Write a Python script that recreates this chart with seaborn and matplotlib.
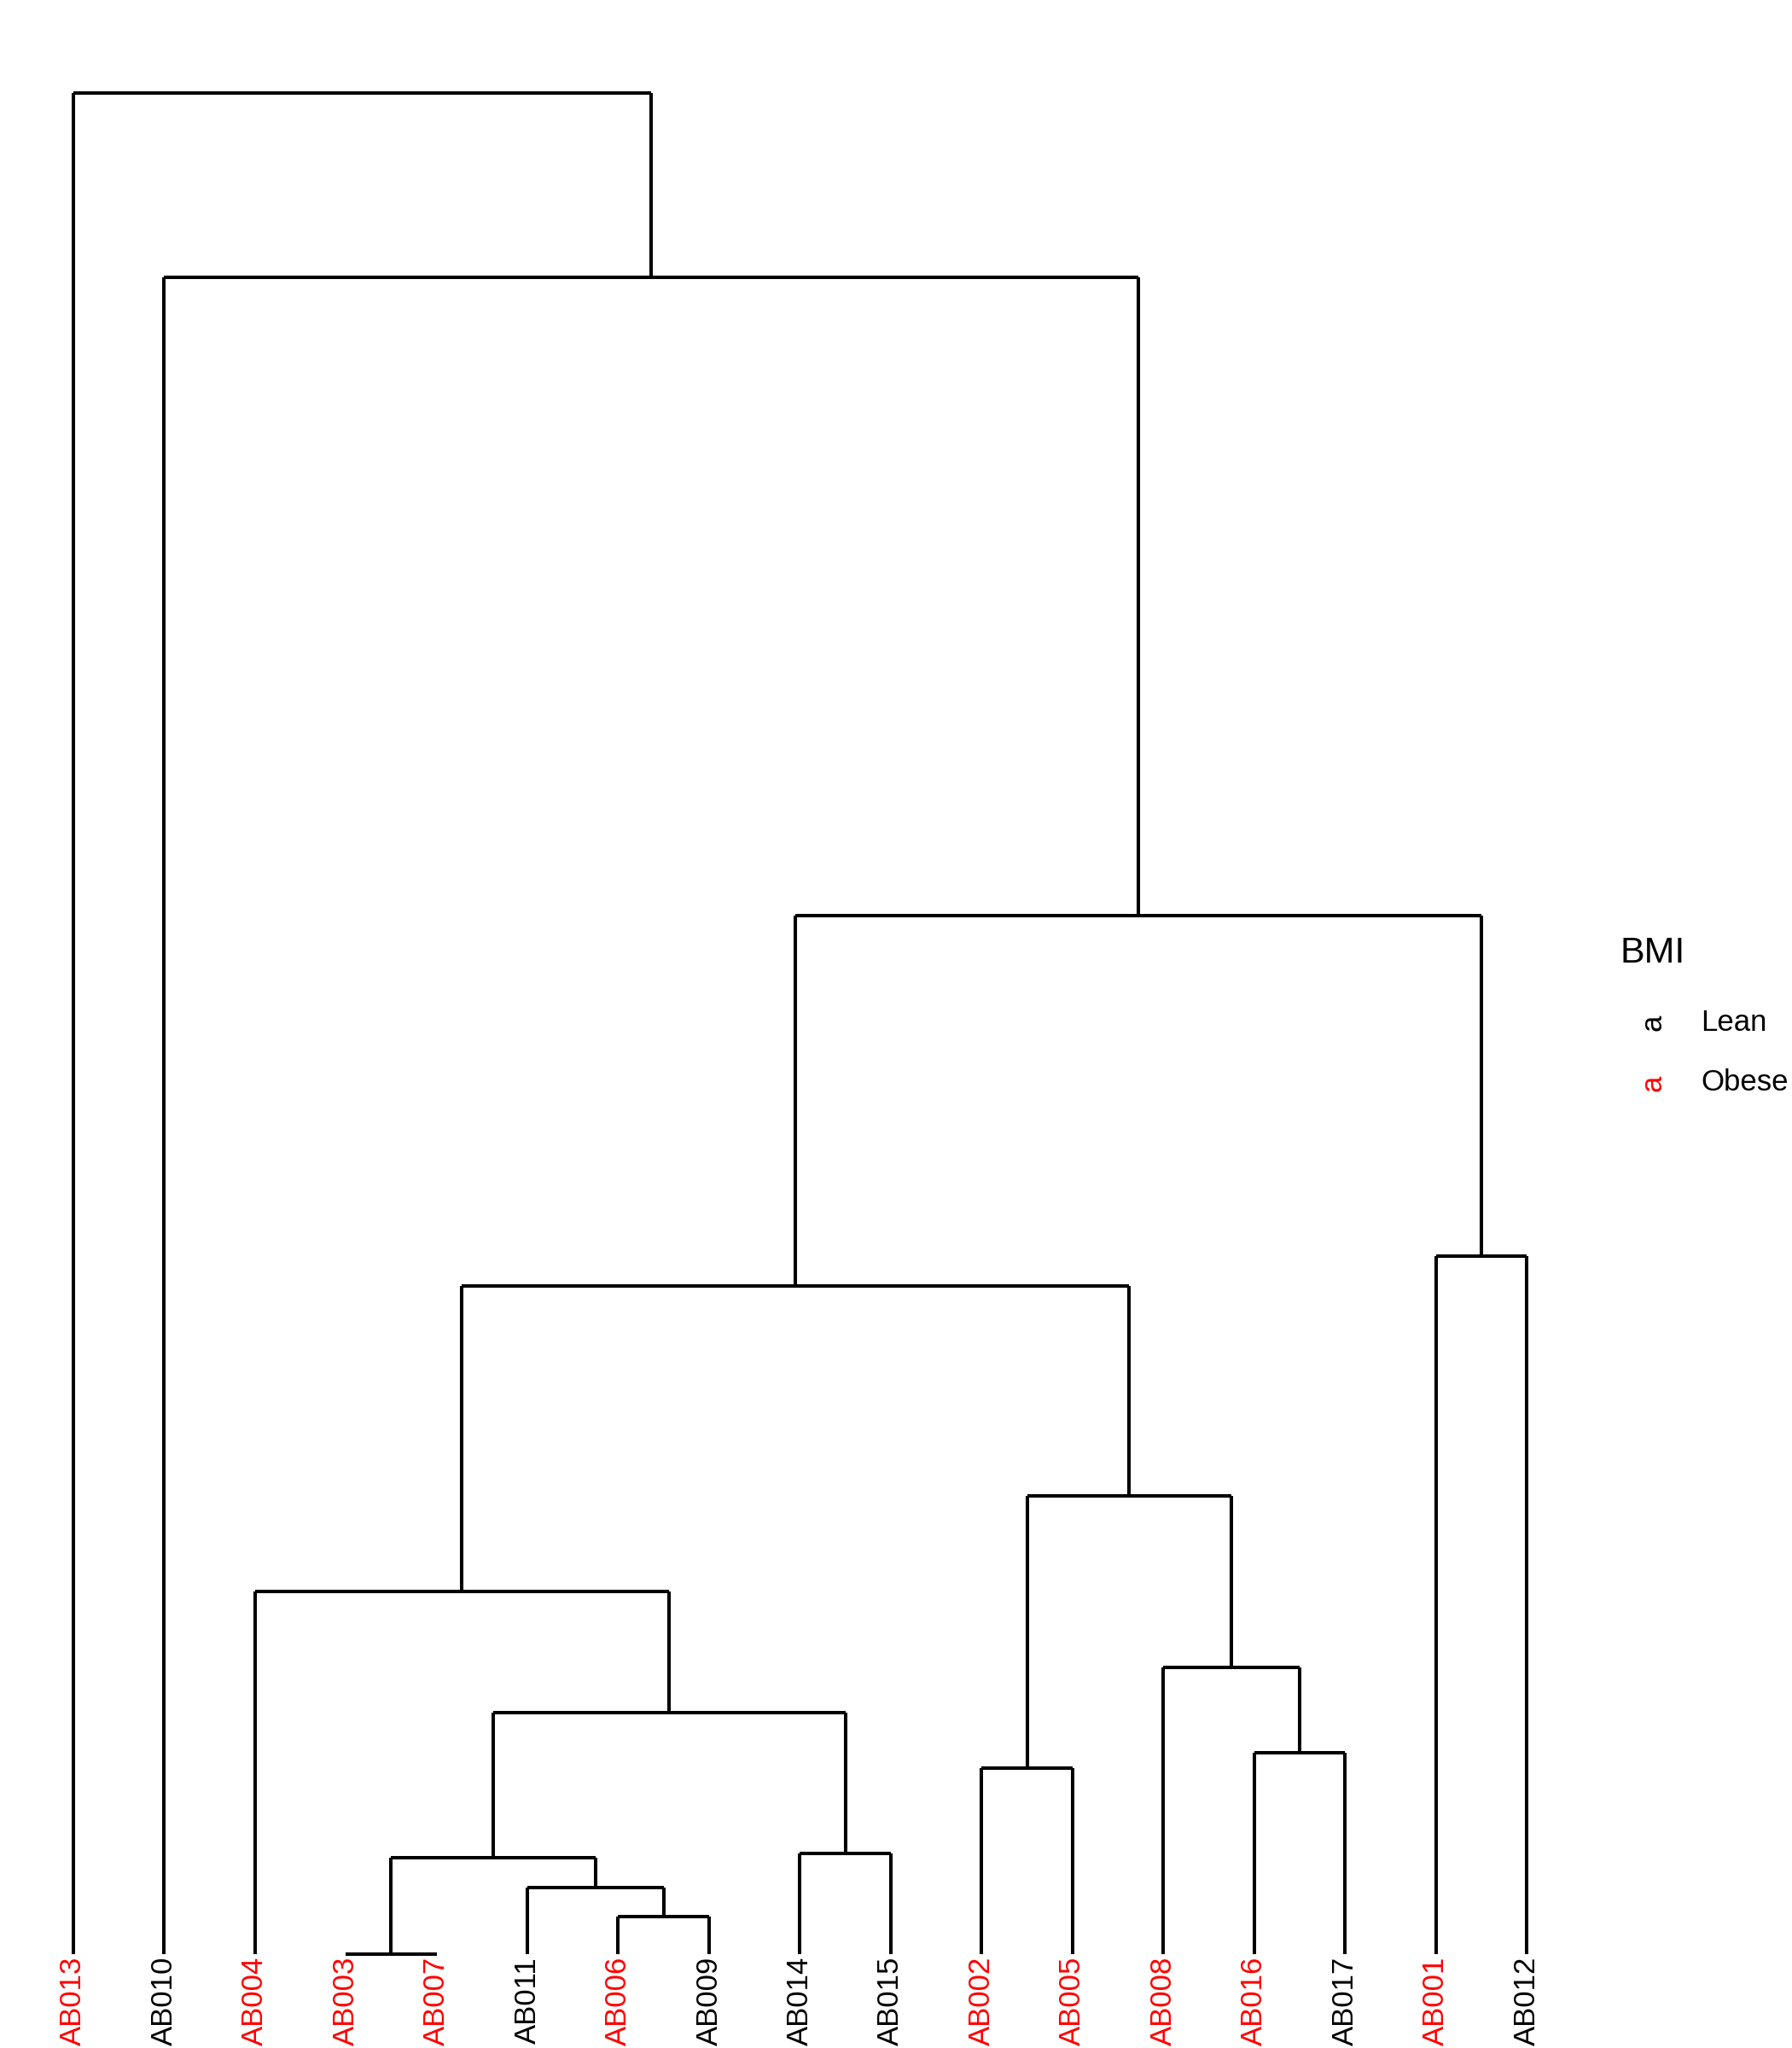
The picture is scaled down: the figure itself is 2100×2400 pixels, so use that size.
import pandas as pd
import numpy as np
import matplotlib
matplotlib.use('Agg')
import matplotlib.pyplot as plt
import seaborn as sns

# leaf order along the bottom and BMI group of each sample
leaves = ['AB013', 'AB010', 'AB004', 'AB003', 'AB007', 'AB011', 'AB006', 'AB009',
          'AB014', 'AB015', 'AB002', 'AB005', 'AB008', 'AB016', 'AB017', 'AB001', 'AB012']
bmi = ['Obese', 'Lean', 'Obese', 'Obese', 'Obese', 'Lean', 'Obese', 'Lean',
       'Lean', 'Lean', 'Obese', 'Obese', 'Obese', 'Obese', 'Lean', 'Obese', 'Lean']

# merges (like a linkage table): mN refers to the N-th merge
merge_left = ['AB003', 'AB006', 'AB011', 'm0', 'AB014', 'm3', 'AB004', 'AB002',
              'AB016', 'AB008', 'm7', 'm6', 'AB001', 'm11', 'AB010', 'AB013']
merge_right = ['AB007', 'AB009', 'm1', 'm2', 'AB015', 'm4', 'm5', 'AB005',
               'AB017', 'm8', 'm9', 'm10', 'AB012', 'm12', 'm13', 'm14']
merge_height = [0.0, 0.020, 0.036, 0.052, 0.054, 0.130, 0.195, 0.100,
                0.108, 0.154, 0.246, 0.359, 0.375, 0.558, 0.901, 1.0]

group_colors = {'Lean': 'black', 'Obese': '#FF0000'}

# positions of nodes
pos = {name: (i + 1, 0.0) for i, name in enumerate(leaves)}
rows = []
for k, (a, b, h) in enumerate(zip(merge_left, merge_right, merge_height)):
    xa, ha = pos[a]
    xb, hb = pos[b]
    rows += [(f'{k}a', xa, ha), (f'{k}a', xa, h),
             (f'{k}h', xa, h), (f'{k}h', xb, h),
             (f'{k}b', xb, hb), (f'{k}b', xb, h)]
    pos[f'm{k}'] = ((xa + xb) / 2, h)
seg = pd.DataFrame(rows, columns=['seg', 'x', 'height'])

sns.set_style('white')
plt.rcParams['font.family'] = ['Liberation Sans', 'DejaVu Sans']
plt.rcParams['text.color'] = 'black'

fig = plt.figure(figsize=(21, 24), dpi=100)
ax = fig.add_axes([0.0154, 0.0458, 0.862, 0.9089])
sns.lineplot(data=seg, x='x', y='height', units='seg', estimator=None, sort=False,
             color='black', linewidth=2.9, ax=ax, legend=False)
for line in ax.lines:
    line.set_clip_on(False)
    line.set_solid_capstyle('butt')

ax.set_xlim(0.5, len(leaves) + 0.5)
ax.set_ylim(0, 1.0)
ax.set_xticks(range(1, len(leaves) + 1))
ax.set_xticklabels(leaves, rotation=90, fontsize=25, va='top')
for lab, g in zip(ax.get_xticklabels(), bmi):
    lab.set_color(group_colors[g])
ax.tick_params(axis='x', length=0, pad=2)
ax.set_yticks([])
ax.set_xlabel('')
ax.set_ylabel('')
for s in ax.spines.values():
    s.set_visible(False)

# legend
fig.text(0.904, 0.5346, 'BMI', fontsize=31, ha='left', va='center', color='black')
for g, yy in zip(['Lean', 'Obese'], [0.5008, 0.4713]):
    fig.text(0.9224, yy, 'a', fontsize=25, rotation=90, ha='center', va='center',
             color=group_colors[g])
    fig.text(0.949, yy, g, fontsize=25, ha='left', va='center', color='black')

fig.savefig('out.png', dpi=100)
